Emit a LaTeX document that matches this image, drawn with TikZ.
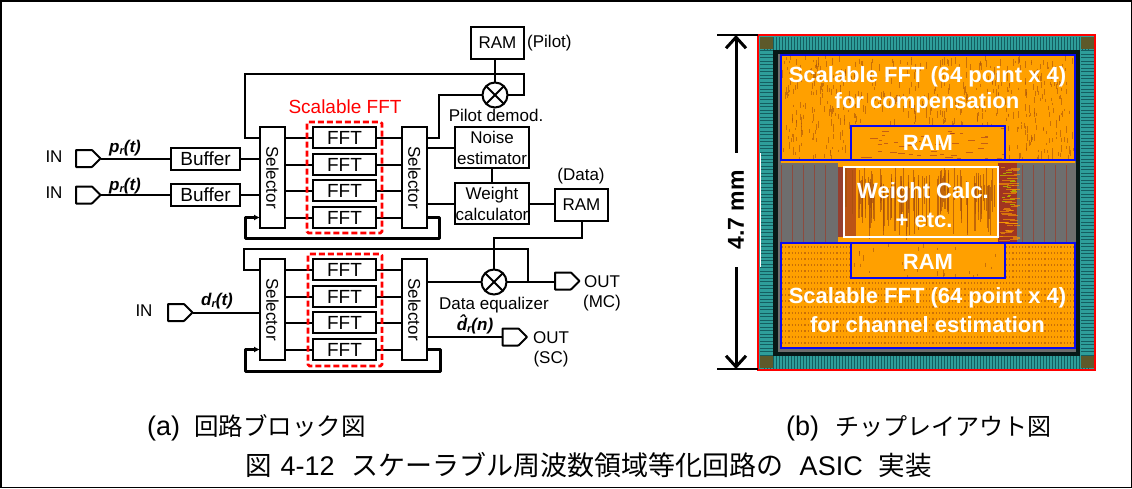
\documentclass[tikz,border=0pt]{standalone}
\usepackage{fontspec}
\setmainfont{Liberation Sans}
\newfontfamily\cjkf{Noto Sans CJK JP}
\usetikzlibrary{arrows.meta,shapes.symbols}
\definecolor{chiporange}{HTML}{FFA000}
\definecolor{chipdark}{HTML}{A8500C}
\definecolor{chipred}{HTML}{A03420}
\definecolor{chipteal}{HTML}{2E9E9A}
\definecolor{chiptealdark}{HTML}{145E60}
\definecolor{chipgrey}{HTML}{6E6E6E}
\definecolor{chipblue}{HTML}{0A0AF0}
\newcommand{\fs}[1]{\fontsize{#1}{#1}\selectfont}
\newcommand{\subr}{\raisebox{-2.5pt}{\fs{11}r}}
\tikzset{
  wire/.style={line width=2pt,draw=black},
  loopwire/.style={line width=3pt,draw=black,line join=round},
  blockbox/.style={draw=black,line width=2pt,fill=white,inner sep=0pt,outer sep=0pt,align=center,font=\fs{17}},
  fftbox/.style={blockbox,minimum width=63.5pt,minimum height=21pt,font=\fs{19}},
  selbox/.style={blockbox,minimum width=25pt,minimum height=101pt},
  seltext/.style={rotate=-90,font=\fs{17},inner sep=0pt},
  twoline/.style={blockbox,minimum width=74pt,minimum height=41pt,execute at begin node={\baselineskip=21pt}},
  rambox/.style={blockbox,minimum width=53pt,minimum height=32pt},
  buffbox/.style={blockbox,minimum width=69pt,minimum height=22pt,font=\fs{19}},
  port/.style={signal,signal to=east,draw=black,line width=2pt,fill=white,minimum width=24.5pt,minimum height=17pt,inner sep=0pt,outer sep=0pt,rounded corners=0.6pt,anchor=east},
  mult/.style={circle,draw=black,line width=2pt,minimum size=25pt,inner sep=0pt,outer sep=0pt},
  lab/.style={font=\fs{17},inner sep=0pt},
  siglab/.style={font=\fs{17}\bfseries\itshape,inner sep=0pt},
  redbox/.style={draw=red,line width=2.6pt,dash pattern=on 6pt off 3pt,rounded corners=1.5pt},
  chiplab/.style={text=white,font=\fs{22}\bfseries,inner sep=0pt},
  blueb/.style={draw=chipblue,line width=2.4pt,inner sep=0pt,outer sep=0pt},
  caplab/.style={font=\fs{27},inner sep=0pt,anchor=west},
}
\begin{document}
\begin{tikzpicture}[x=1pt,y=-1pt]
\useasboundingbox (0,0) rectangle (1132,488);
\fill[white] (0,0) rectangle (1132,488);
\draw[black,line width=1.5pt] (0.75,0.75) rectangle (1131.25,487.25);

% ---------- circuit, upper part
\node[port] (in1) at (100.5,158.5) {};
\node[port] (in2) at (100.5,195) {};
\node[lab] (in1t) at (54,157) {IN};
\node[lab] (in2t) at (54,193) {IN};
\node[siglab] (p1) at (125,148) {p\subr(t)};
\node[siglab] (p2) at (125,186) {p\subr(t)};
\node[buffbox] (b1) at (205.5,158.5) {Buffer};
\node[buffbox] (b2) at (205.5,195) {Buffer};
\node[selbox] (s1) at (272.5,177.5) {};
\node[seltext] (s1t) at (s1) {Selector};
\node[selbox] (s2) at (414.5,177.5) {};
\node[seltext] (s2t) at (s2) {Selector};
\node[fftbox] (f1) at (344.5,137.5) {FFT};
\node[fftbox] (f2) at (344.5,164.5) {FFT};
\node[fftbox] (f3) at (344.5,190.5) {FFT};
\node[fftbox] (f4) at (344.5,217.5) {FFT};
\node[font=\fs{19},text=red,inner sep=0pt] (sf) at (345,107) {Scalable FFT};
\node[rambox] (rp) at (497.5,43) {RAM};
\node[lab,anchor=west] (rpl) at (527,43) {(Pilot)};
\node[mult] (m1) at (495,95) {};
\draw[wire] (m1.45)--(m1.225) (m1.135)--(m1.315);
\node[lab] (pd) at (496,115) {Pilot demod.};
\node[twoline] (ne) at (492,147.5) {Noise\\estimator};
\node[twoline] (wc) at (492,203.5) {Weight\\calculator};
\node[rambox] (rd) at (581.5,205) {RAM};
\node[lab] (rdl) at (581,176) {(Data)};
\coordinate (tl) at (245,74);
\coordinate (tr) at (524,74);
\coordinate (c1) at (439,137.5);
\coordinate (c2) at (439,238);
\coordinate (c3) at (245,238);
\draw[wire] (in1.east)--(b1.west);
\draw[wire] (in2.east)--(b2.west);
\draw[wire] (b1.east)--(b1.east -| s1.west);
\draw[wire] (b2.east)--(b2.east -| s1.west);
\foreach \f in {f1,f2,f3,f4}{
  \draw[wire] (\f.west -| s1.east)--(\f.west);
  \draw[wire] (\f.east)--(\f.east -| s2.west);
}
\draw[wire] (f1.west -| s1.west)--(f1.west -| tl)--(tl)--(tr)--(tr |- m1.east)--(m1.east);
\draw[wire] (rp.south -| m1.north)--(m1.north);
\draw[wire] (m1.west)--(m1.west -| c1)--(c1)--(c1 -| s2.east);
\draw[wire] (ne.west -| s2.east)--(ne.west);
\draw[wire] (wc.west -| s2.east)--(wc.west);
\draw[wire] (ne.south)--(wc.north);
\draw[wire] (wc.east)--(wc.east -| rd.west);
\draw[loopwire,-{Latex[length=6pt,width=6pt]}] (f4.east -| s2.east)--(f4.east -| c2)--(c2)--(c3)--(f4.west -| c3)--(f4.west -| s1.west);
\draw[redbox] (307,122) rectangle (382,233);

% ---------- circuit, lower part
\node[port] (in3) at (192.5,312.5) {};
\node[lab] (in3t) at (144,311) {IN};
\node[siglab] (d1) at (217,301) {d\subr(t)};
\node[selbox] (s3) at (272.5,309.5) {};
\node[seltext] (s3t) at (s3) {Selector};
\node[selbox] (s4) at (414.5,309.5) {};
\node[seltext] (s4t) at (s4) {Selector};
\node[fftbox] (g1) at (344.5,269.5) {FFT};
\node[fftbox] (g2) at (344.5,296.5) {FFT};
\node[fftbox] (g3) at (344.5,322.5) {FFT};
\node[fftbox] (g4) at (344.5,349.5) {FFT};
\node[mult] (m2) at (494,282) {};
\draw[wire] (m2.45)--(m2.225) (m2.135)--(m2.315);
\node[lab] (de) at (494,305) {Data equalizer};
\node[siglab] (dh) at (475,324) {\^{d}\subr(n)};
\node[port] (o1) at (579.5,281) {};
\node[lab] (o1t) at (602,282) {OUT};
\node[lab] (o1s) at (602,303) {(MC)};
\node[port] (o2) at (527,337) {};
\node[lab] (o2t) at (551,338) {OUT};
\node[lab] (o2s) at (551,359) {(SC)};
\coordinate (ltl) at (244,249);
\coordinate (ltr) at (528,249);
\coordinate (dc) at (493,238);
\coordinate (dd) at (440,371);
\coordinate (de2) at (245,371);
\draw[wire] (in3.east)--(in3.east -| s3.west);
\foreach \f in {g1,g2,g3,g4}{
  \draw[wire] (\f.west -| s3.east)--(\f.west);
  \draw[wire] (\f.east)--(\f.east -| s4.west);
}
\draw[wire] (g1.west -| s3.west)--(g1.west -| ltl)--(ltl)--(ltr)--(ltr |- m2.east);
\draw[wire] (m2.west -| s4.east)--(m2.west);
\draw[wire] (m2.east)--(o1.west |- m2.east);
\draw[wire] (rd.south)--(rd.south |- dc)--(dc)--(dc -| m2.north)--(m2.north);
\draw[wire] (o2.west -| s4.east)--(o2.west);
\draw[loopwire,-{Latex[length=6pt,width=6pt]}] (g4.east -| s4.east)--(g4.east -| dd)--(dd)--(de2)--(g4.west -| de2)--(g4.west -| s3.west);
\draw[redbox] (308,254) rectangle (382,366);

% ---------- chip layout
\pgfmathsetseed{17}
\fill[chipteal] (758,35) rectangle (1095,370);
\foreach \x in {764,767,...,1090}{
  \fill[chiptealdark] (\x,37) rectangle +(1.2,13);
  \fill[chiptealdark] (\x,356) rectangle +(1.2,13);
}
\foreach \y in {50,53.5,...,356}{
  \fill[chiptealdark] (760,\y) rectangle +(13,1.2);
  \fill[chiptealdark] (1081,\y) rectangle +(13,1.2);
}
\fill[black!85!chipteal] (773,50) rectangle (1080,356);
\fill[chipgrey] (778,54) rectangle (1076,352);
\foreach \cx/\cy in {760/37,1081/37,760/356,1081/356}
  \fill[black!45!olive] (\cx,\cy) rectangle +(13,12);
% top block
\fill[chiporange] (781,55) rectangle (1075,160);
\begin{scope}
\clip (781,55) rectangle (1075,160);
\foreach \i in {1,...,650}{
  \pgfmathsetmacro{\rx}{781+294*rnd}
  \pgfmathsetmacro{\ry}{55+105*rnd}
  \pgfmathsetmacro{\rl}{2+6*rnd}
  \draw[chipdark,line width=0.8pt,opacity=0.6] (\rx,\ry)--++(0,\rl);
}
\end{scope}
\fill[chiporange] (851,126) rectangle (1005,160);
\begin{scope}
\clip (851,126) rectangle (1005,160);
\foreach \i in {1,...,50}{
  \pgfmathsetmacro{\rx}{851+154*rnd}
  \pgfmathsetmacro{\ry}{126+34*rnd}
  \pgfmathsetmacro{\rl}{2+6*rnd}
  \draw[chipred,line width=0.7pt,opacity=0.6] (\rx,\ry)--++(\rl,0);
}
\end{scope}
% middle block
\foreach \x in {781,792,...,835}
  \draw[chipred,line width=0.8pt,opacity=0.6] (\x,165)--(\x,242);
\foreach \x in {1022,1033,...,1075}
  \draw[chipred,line width=0.8pt,opacity=0.6] (\x,165)--(\x,242);
\fill[chipred,opacity=0.8] (838,165) rectangle (844,242);
\fill[chiporange] (781,160) rectangle (1075,163);
\fill[chiporange] (838,163) rectangle (1000,167);
\fill[chiporange] (838,237) rectangle (1000,242);
\fill[chiporange] (844,167) rectangle (998,236);
\fill[chipred,opacity=0.7] (844,167) rectangle (856,236);
\fill[chipred] (998,163) rectangle (1017,242);
\begin{scope}
\clip (844,167) rectangle (1020,240);
\foreach \i in {1,...,110}{
  \pgfmathsetmacro{\rx}{844+154*rnd}
  \pgfmathsetmacro{\ry}{167+25*rnd}
  \pgfmathsetmacro{\rl}{20+30*rnd}
  \draw[chipdark,line width=1.1pt,opacity=0.7] (\rx,\ry)--++(0,\rl);
}
\foreach \i in {1,...,60}{
  \pgfmathsetmacro{\rx}{998+16*rnd}
  \pgfmathsetmacro{\ry}{167+73*rnd}
  \pgfmathsetmacro{\rl}{3+10*rnd}
  \draw[chiporange,line width=0.8pt,opacity=0.6] (\rx,\ry)--++(\rl,0);
}
\foreach \i in {1,...,18}{
  \pgfmathsetmacro{\rx}{1000+12*rnd}
  \pgfmathsetmacro{\ry}{172+50*rnd}
  \pgfmathsetmacro{\rl}{2+4*rnd}
  \draw[olive!70!yellow,line width=0.9pt] (\rx,\ry)--++(\rl,0);
}
\end{scope}
% bottom block
\fill[chiporange] (781,243) rectangle (1075,348);
\foreach \y in {247,253,...,346}
  \draw[chipdark,line width=1.2pt,dash pattern=on 1.2pt off 2pt,opacity=0.6] (782,\y)--(1074,\y);
\fill[chiporange] (851,243) rectangle (1005,278);
\begin{scope}
\clip (851,243) rectangle (1005,278);
\foreach \i in {1,...,30}{
  \pgfmathsetmacro{\rx}{851+154*rnd}
  \pgfmathsetmacro{\ry}{243+35*rnd}
  \pgfmathsetmacro{\rl}{2+4*rnd}
  \draw[chipdark,line width=0.7pt,opacity=0.6] (\rx,\ry)--++(0,\rl);
}
\end{scope}
\node[blueb,minimum width=294pt,minimum height=105pt] (bt) at (928,107.5) {};
\node[blueb,minimum width=154pt,minimum height=34pt] (rt) at (928,143) {};
\node[draw=white,line width=2pt,minimum width=154pt,minimum height=69.5pt,inner sep=0pt] (wb) at (920.5,202) {};
\node[blueb,minimum width=294pt,minimum height=105pt] (bb) at (928,295.5) {};
\node[blueb,minimum width=154pt,minimum height=35pt] (rb) at (928,260.5) {};
\draw[red,line width=2pt] (758,35) rectangle (1095,370);
\draw[white,line width=1pt] (760,153)--(760,267);
\node[chiplab] (t1) at (927.5,77) {Scalable FFT (64 point x 4)};
\node[chiplab] (t2) at (927,103) {for compensation};
\node[chiplab] (t3) at (928,143) {RAM};
\node[chiplab] (t4) at (923,193) {Weight Calc.};
\node[chiplab] (t5) at (924,220) {+ etc.};
\node[chiplab] (t6) at (928,262) {RAM};
\node[chiplab] (t7) at (927.5,298) {Scalable FFT (64 point x 4)};
\node[chiplab] (t8) at (927.5,325) {for channel estimation};

% ---------- dimension
\coordinate (dt) at (736,35);
\coordinate (db) at (736,369);
\coordinate (dtl) at (717,35);
\coordinate (dbl) at (717,369);
\draw[black,line width=2pt] (dtl)--(758,35);
\draw[black,line width=2pt] (dbl)--(758,369);
\node[rotate=90,font=\fs{23}\bfseries,inner sep=0pt,minimum width=114pt] (dim) at (736,210) {4.7 mm};
\draw[line width=3pt,-{Straight Barb[length=11pt,width=20pt,line width=3pt]}] (dim.east)--(dt);
\draw[line width=3pt,-{Straight Barb[length=11pt,width=20pt,line width=3pt]}] (dim.west)--(db);

% ---------- captions
\node[caplab] (ca) at (147,428) {(a)\hspace{14pt}{\cjkf\fs{24.5}回路ブロック図}};
\node[caplab] (cb) at (786,428) {(b)\hspace{16pt}{\cjkf\fs{24}チップレイアウト図}};
\node[caplab] (cc) at (245,465) {{\cjkf\fs{26.5}図}\hspace{9pt}4-12\hspace{17pt}{\cjkf\fs{27}スケーラブル周波数領域等化回路の}\hspace{16pt}ASIC\hspace{16pt}{\cjkf\fs{26.5}実装}};
\end{tikzpicture}
\end{document}
